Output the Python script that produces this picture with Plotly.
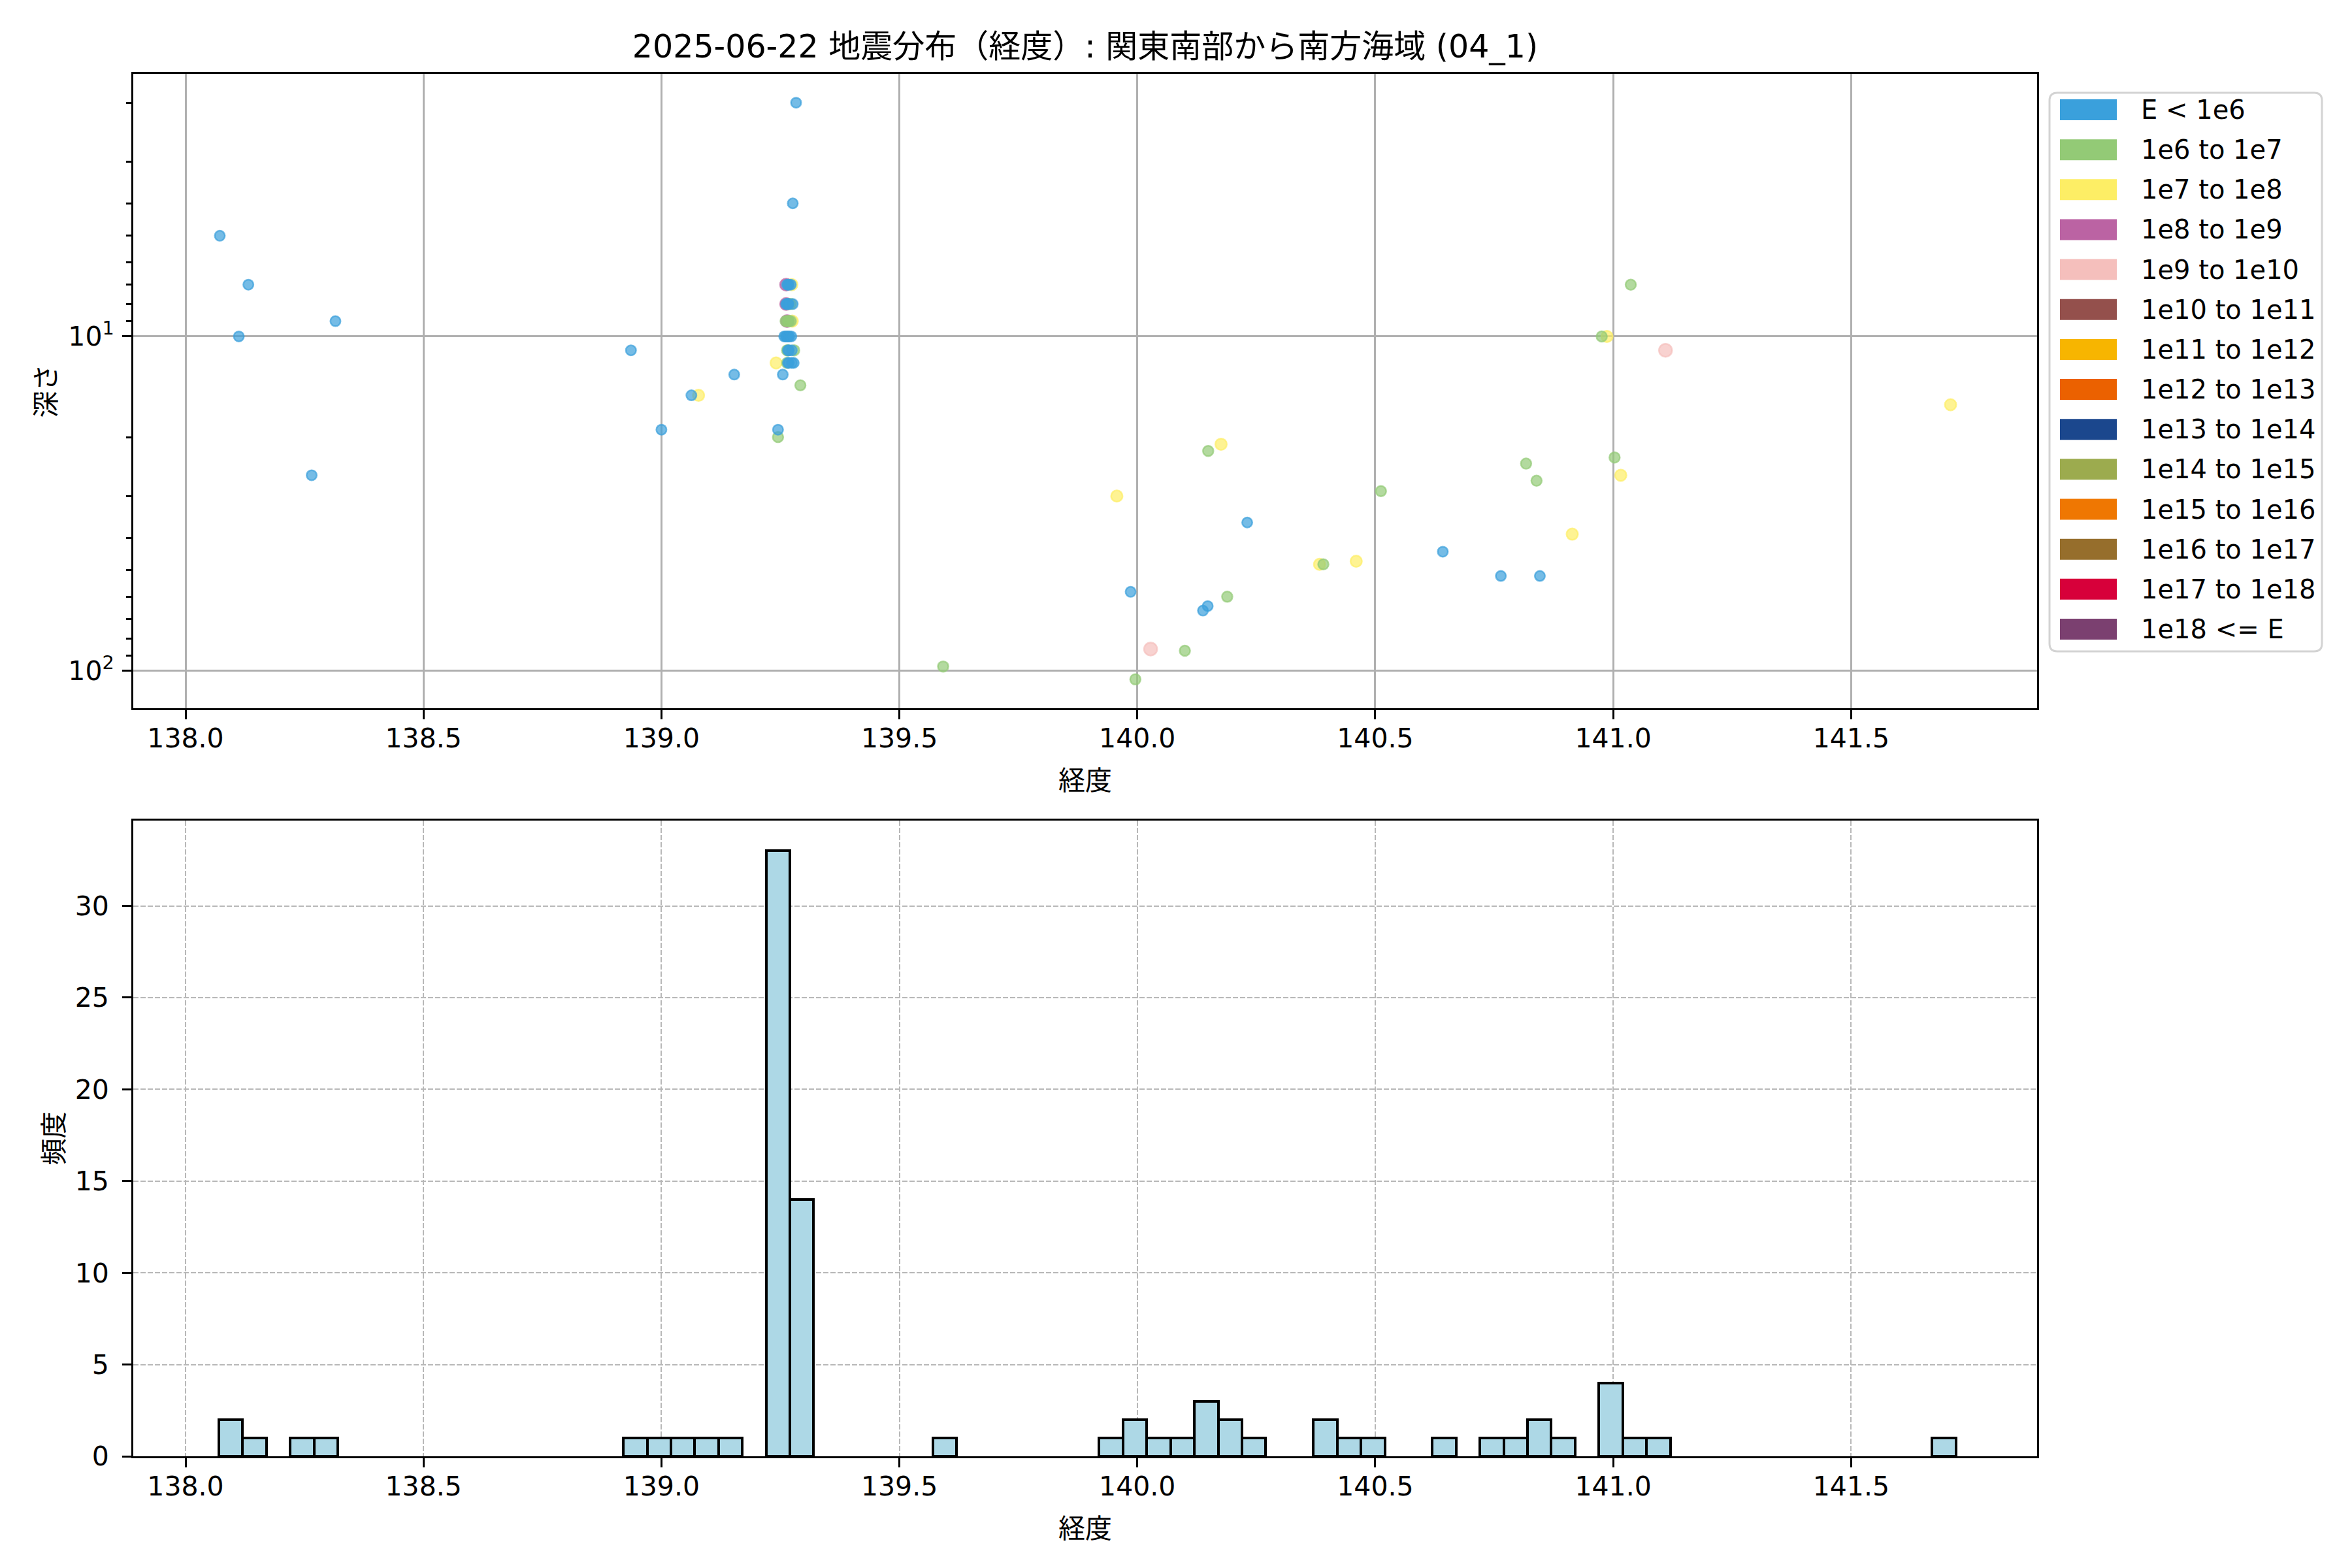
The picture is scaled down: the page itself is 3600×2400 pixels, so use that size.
import numpy as np
import plotly.graph_objects as go

# ---------------- data ----------------
title_text = "2025-06-22 地震分布（経度）: 関東南部から南方海域 (04_1)"
x_label = "経度"
depth_label = "深さ"
freq_label = "頻度"

energy_labels = ["E < 1e6", "1e6 to 1e7", "1e7 to 1e8", "1e8 to 1e9", "1e9 to 1e10",
                 "1e10 to 1e11", "1e11 to 1e12", "1e12 to 1e13", "1e13 to 1e14",
                 "1e14 to 1e15", "1e15 to 1e16", "1e16 to 1e17", "1e17 to 1e18",
                 "1e18 <= E"]
energy_colors = ["#3AA0DC", "#93CA76", "#FDEE65", "#BB63A3", "#F5BFBC",
                 "#94504C", "#F7B500", "#EB6100", "#1B478D", "#9CAB4E",
                 "#EF7702", "#966E2C", "#D7003A", "#7B4070"]

# longitude, depth (km), energy class index (into energy_labels)
lon_west = [138.072, 138.112, 138.132, 138.265, 138.315,
            138.936, 139.000, 139.063, 139.078, 139.153]
dep_west = [5.0, 10.0, 7.0, 26.0, 9.0,
            11.0, 19.0, 15.0, 15.0, 13.0]
cls_west = [0, 0, 0, 0, 0,
            0, 0, 0, 2, 0]

lon_cluster = [139.241, 139.255, 139.245, 139.245,
               139.262, 139.264, 139.266, 139.268,
               139.262, 139.262, 139.264, 139.266, 139.268,
               139.261, 139.264, 139.265, 139.267, 139.268,
               139.258, 139.261, 139.263, 139.265, 139.267, 139.269,
               139.264, 139.266, 139.268,
               139.264, 139.266, 139.268,
               139.265, 139.267, 139.266,
               139.283, 139.276, 139.292, 139.274, 139.272, 139.276, 139.272,
               139.275, 139.272, 139.273, 139.279, 139.274, 139.278, 139.274]
dep_cluster = [12, 13, 19, 20,
               7, 7, 7, 7,
               8, 8, 8, 8, 8,
               9, 9, 9, 9, 9,
               10, 10, 10, 10, 10, 10,
               11, 11, 11,
               12, 12, 12,
               10, 8, 11,
               2.0, 4.0, 14, 7, 7, 8, 8,
               9, 9, 10, 11, 11, 12, 12]
cls_cluster = [2, 0, 0, 1,
               3, 0, 0, 0,
               3, 0, 0, 0, 1,
               1, 3, 1, 1, 1,
               0, 0, 0, 0, 0, 0,
               1, 0, 0,
               1, 0, 0,
               0, 0, 1,
               0, 0, 1, 2, 0, 0, 1,
               2, 1, 0, 1, 0, 0, 0]

lon_east = [139.592,
            139.957, 139.986, 139.996, 140.028, 140.100, 140.138, 140.148, 140.149,
            140.176, 140.189, 140.231,
            140.383, 140.391, 140.460, 140.512,
            140.642,
            140.764, 140.817, 140.839, 140.846, 140.914,
            140.976, 140.987, 141.003, 141.016, 141.037, 141.110,
            141.709]
dep_east = [97,
            30, 58, 106, 86, 87, 66, 64, 22,
            21, 60, 36,
            48, 48, 47, 29,
            44,
            52, 24, 27, 52, 39,
            10, 10, 23, 26, 7, 11,
            16]
cls_east = [1,
            2, 0, 1, 4, 1, 0, 0, 1,
            2, 1, 0,
            2, 1, 2, 1,
            0,
            0, 1, 1, 0, 2,
            1, 2, 1, 2, 1, 4,
            2]

lon = np.array(lon_west + lon_cluster + lon_east)
depth = np.array(dep_west + dep_cluster + dep_east, dtype=float)
ecls = np.array(cls_west + cls_cluster + cls_east)

hist_start = 138.07
hist_end = 141.72
hist_size = 0.05

# ---------------- style ----------------
W, H = 3600, 2400
OFF = 8  # page body offset of the rendered figure
# target plot-area box in screen pixels
SX0, SX1, SY0, SY1 = 204, 3118, 113, 2229
ML, MT = SX0 - OFF, SY0 - OFF
MR, MB = W - (SX1 - OFF), H - (SY1 - OFF)
PW, PH = SX1 - SX0, SY1 - SY0
FONT = "DejaVu Sans, Noto Sans CJK JP"
FS = 41

def px2x(px):
    return (px - SX0) / PW

def py2y(py):
    return (SY1 - py) / PH

def rgba(hexc, a):
    hexc = hexc.lstrip("#")
    r, g, b = int(hexc[0:2], 16), int(hexc[2:4], 16), int(hexc[4:6], 16)
    return f"rgba({r},{g},{b},{a})"

class_sizes = [15.5, 16, 17.5, 18.5, 20, 21, 21, 21, 21, 21, 21, 21, 21, 21]

fig = go.Figure()

# scatter: plot higher classes first so lower ones sit on top
for c in sorted(set(ecls.tolist()), reverse=True):
    m = ecls == c
    fig.add_trace(go.Scatter(
        x=lon[m], y=depth[m], mode="markers", xaxis="x", yaxis="y",
        marker=dict(size=class_sizes[c], color=rgba(energy_colors[c], 0.7),
                    line=dict(color=rgba(energy_colors[c], 0.7), width=2.5)),
        showlegend=False, hoverinfo="x+y"))

# histogram
edges = np.arange(hist_start, hist_end + hist_size / 2, hist_size)
counts, _ = np.histogram(lon, bins=edges)
fig.add_trace(go.Histogram(
    x=lon, xaxis="x2", yaxis="y2",
    xbins=dict(start=hist_start, end=hist_end, size=hist_size),
    marker=dict(color="#ADD8E6", line=dict(color="black", width=4)),
    showlegend=False))

# ranges (matplotlib-like 5% margins)
xmin, xmax = lon.min(), lon.max()
xm = (xmax - xmin) * 0.05
xr = [xmin - xm, xmax + xm]
lmin, lmax = np.log10(depth.min()), np.log10(depth.max())
lm = (lmax - lmin) * 0.05
yr = [lmax + lm, lmin - lm]

axis_common = dict(showline=True, linecolor="black", linewidth=3, mirror=True,
                   ticks="outside", ticklen=14, tickwidth=3, tickcolor="black",
                   tickfont=dict(family=FONT, size=FS, color="black"),
                   zeroline=False)

minor_vals = [v * 10 ** e for e in (0, 1) for v in range(2, 10)]

fig.update_layout(
    width=W, height=H,
    margin=dict(l=ML, r=MR, t=MT, b=MB),
    paper_bgcolor="white", plot_bgcolor="white",
    font=dict(family=FONT, size=FS, color="black"),
    bargap=0,
    title=dict(text=title_text, x=0.5, xref="paper", xanchor="center",
               y=1 - (71 - OFF) / H, yref="container", yanchor="middle",
               font=dict(family=FONT, size=49, color="black")),
    xaxis=dict(axis_common, domain=[0, 1], anchor="y", range=xr,
               tick0=138.0, dtick=0.5, tickformat=".1f", ticklabelstandoff=-6,
               showgrid=True, gridcolor="#b0b0b0", gridwidth=3,
               title=dict(text=x_label, standoff=28, font=dict(family=FONT, size=FS))),
    yaxis=dict(axis_common, domain=[py2y(1084), 1.0], anchor="x", type="log",
               range=yr, tickmode="array", tickvals=[10, 100], ticklabelstandoff=4,
               ticktext=["10<sup>1</sup>", "10<sup>2</sup>"],
               showgrid=True, gridcolor="#b0b0b0", gridwidth=3,
               minor=dict(tickmode="array", tickvals=minor_vals, ticks="outside",
                          ticklen=8, tickwidth=2.5, tickcolor="black", showgrid=False),
               title=dict(text=depth_label, standoff=7, font=dict(family=FONT, size=FS))),
    xaxis2=dict(axis_common, domain=[0, 1], anchor="y2", range=xr,
                tick0=138.0, dtick=0.5, tickformat=".1f", ticklabelstandoff=-6,
                showgrid=True, gridcolor="#b8b8b8", gridwidth=2, griddash="8px,3px",
                title=dict(text=x_label, standoff=28, font=dict(family=FONT, size=FS))),
    yaxis2=dict(axis_common, domain=[0, py2y(1256)], anchor="x2", ticklabelstandoff=12,
                range=[0, counts.max() * 1.05], tick0=0, dtick=5,
                showgrid=True, gridcolor="#b8b8b8", gridwidth=2, griddash="8px,3px",
                title=dict(text=freq_label, standoff=5, font=dict(family=FONT, size=FS))),
)

# manual legend (patch-style swatches, like the reference)
shapes = []
annotations = []
lx0, lx1, ly0, ly1 = 3137, 3554, 142, 997
r = 12
rx, ry = r / PW, r / PH
X0, X1, Y0, Y1 = px2x(lx0), px2x(lx1), py2y(ly0), py2y(ly1)
path = (f"M {X0+rx},{Y0} L {X1-rx},{Y0} Q {X1},{Y0} {X1},{Y0-ry} "
        f"L {X1},{Y1+ry} Q {X1},{Y1} {X1-rx},{Y1} L {X0+rx},{Y1} "
        f"Q {X0},{Y1} {X0},{Y1+ry} L {X0},{Y0-ry} Q {X0},{Y0} {X0+rx},{Y0} Z")
shapes.append(dict(type="path", xref="paper", yref="paper", path=path,
                   line=dict(color="#d3d3d3", width=3), fillcolor="rgba(255,255,255,0.8)"))
row0, step = 168, 61.15
for i, (lab, col) in enumerate(zip(energy_labels, energy_colors)):
    cy = row0 + i * step
    shapes.append(dict(type="rect", xref="paper", yref="paper",
                       x0=px2x(3153), x1=px2x(3240), y0=py2y(cy - 16), y1=py2y(cy + 16),
                       line=dict(width=0), fillcolor=col))
    annotations.append(dict(text=lab, xref="paper", yref="paper", x=px2x(3275), y=py2y(cy),
                            xanchor="left", yanchor="middle", showarrow=False,
                            font=dict(family=FONT, size=40, color="black")))
fig.update_layout(shapes=shapes, annotations=annotations)

fig.write_html("out.html")
